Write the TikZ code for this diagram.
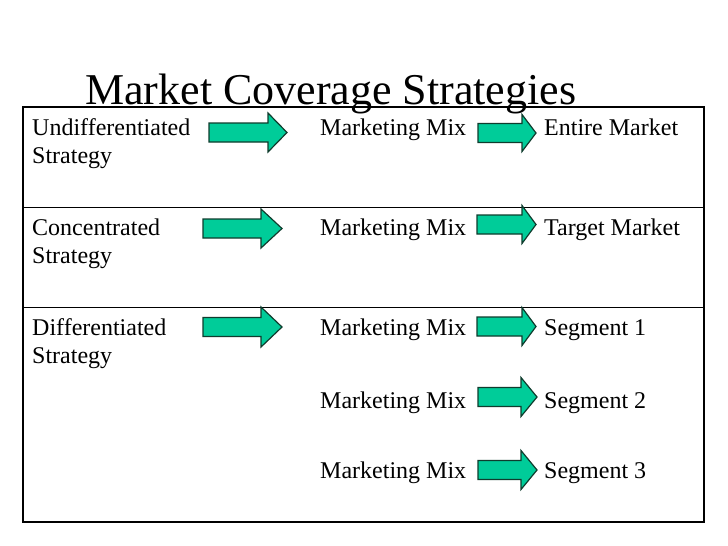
\documentclass[tikz,border=0pt]{standalone}
\usepackage{fontspec}
\setmainfont{Liberation Serif}
\definecolor{arrowfill}{RGB}{0,204,153}
\definecolor{arrowline}{RGB}{15,60,45}
\newcommand{\greenarrow}[5]{% x-start, head-base, tip, y-centre, head half-height
  \filldraw[arrowstyle] (#1,#4-9.5) -- (#2,#4-9.5) -- (#2,#4-#5) -- (#3,#4)
    -- (#2,#4+#5) -- (#2,#4+9.5) -- (#1,#4+9.5) -- cycle;}
\begin{document}
\begin{tikzpicture}[x=1pt,y=-1pt,
  arrowstyle/.style={fill=arrowfill,draw=arrowline,line width=1.2pt,line join=miter},
  cell/.style={anchor=base west,inner sep=0pt,font=\fontsize{24}{28.5}\selectfont},
  titletext/.style={anchor=base west,inner sep=0pt,font=\fontsize{44}{48}\selectfont},
  outer/.style={line width=2.4pt},
  divider/.style={line width=1pt}]
\useasboundingbox (0,0) rectangle (728,546);
\fill[white] (0,0) rectangle (728,546);
% title
\node[titletext] (title) at (85,104) {Market Coverage Strategies};
% table
\draw[divider] (23,207) -- (704,207);
\draw[divider] (23,307) -- (704,307);
\draw[outer] (23,107) rectangle (704,522);
% row 1
\node[cell] (s1) at (32,135) {Undifferentiated};
\node[cell] (s1b) at (32,163.5) {Strategy};
\node[cell] (m1) at (320,135) {Marketing Mix};
\node[cell] (t1) at (544,135) {Entire Market};
\greenarrow{209}{268}{287}{132.5}{19.5}
\greenarrow{478}{522}{536}{133}{18.5}
% row 2
\node[cell] (s2) at (32,235) {Concentrated};
\node[cell] (s2b) at (32,263.5) {Strategy};
\node[cell] (m2) at (320,235) {Marketing Mix};
\node[cell] (t2) at (544,235) {Target Market};
\greenarrow{203}{261}{282}{228.5}{19.5}
\greenarrow{477}{522}{536}{224.5}{19}
% row 3
\node[cell] (s3) at (32,335) {Differentiated};
\node[cell] (s3b) at (32,363.5) {Strategy};
\node[cell] (m3) at (320,335) {Marketing Mix};
\node[cell] (t3) at (544,335) {Segment 1};
\greenarrow{203}{261}{282}{327}{20}
\greenarrow{477}{522}{536}{326.5}{19}
\node[cell] (m4) at (320,408) {Marketing Mix};
\node[cell] (t4) at (544,408) {Segment 2};
\greenarrow{478}{521}{537}{397}{19.5}
\node[cell] (m5) at (320,478) {Marketing Mix};
\node[cell] (t5) at (544,478) {Segment 3};
\greenarrow{478}{521}{537}{470}{19.5}
\end{tikzpicture}
\end{document}
